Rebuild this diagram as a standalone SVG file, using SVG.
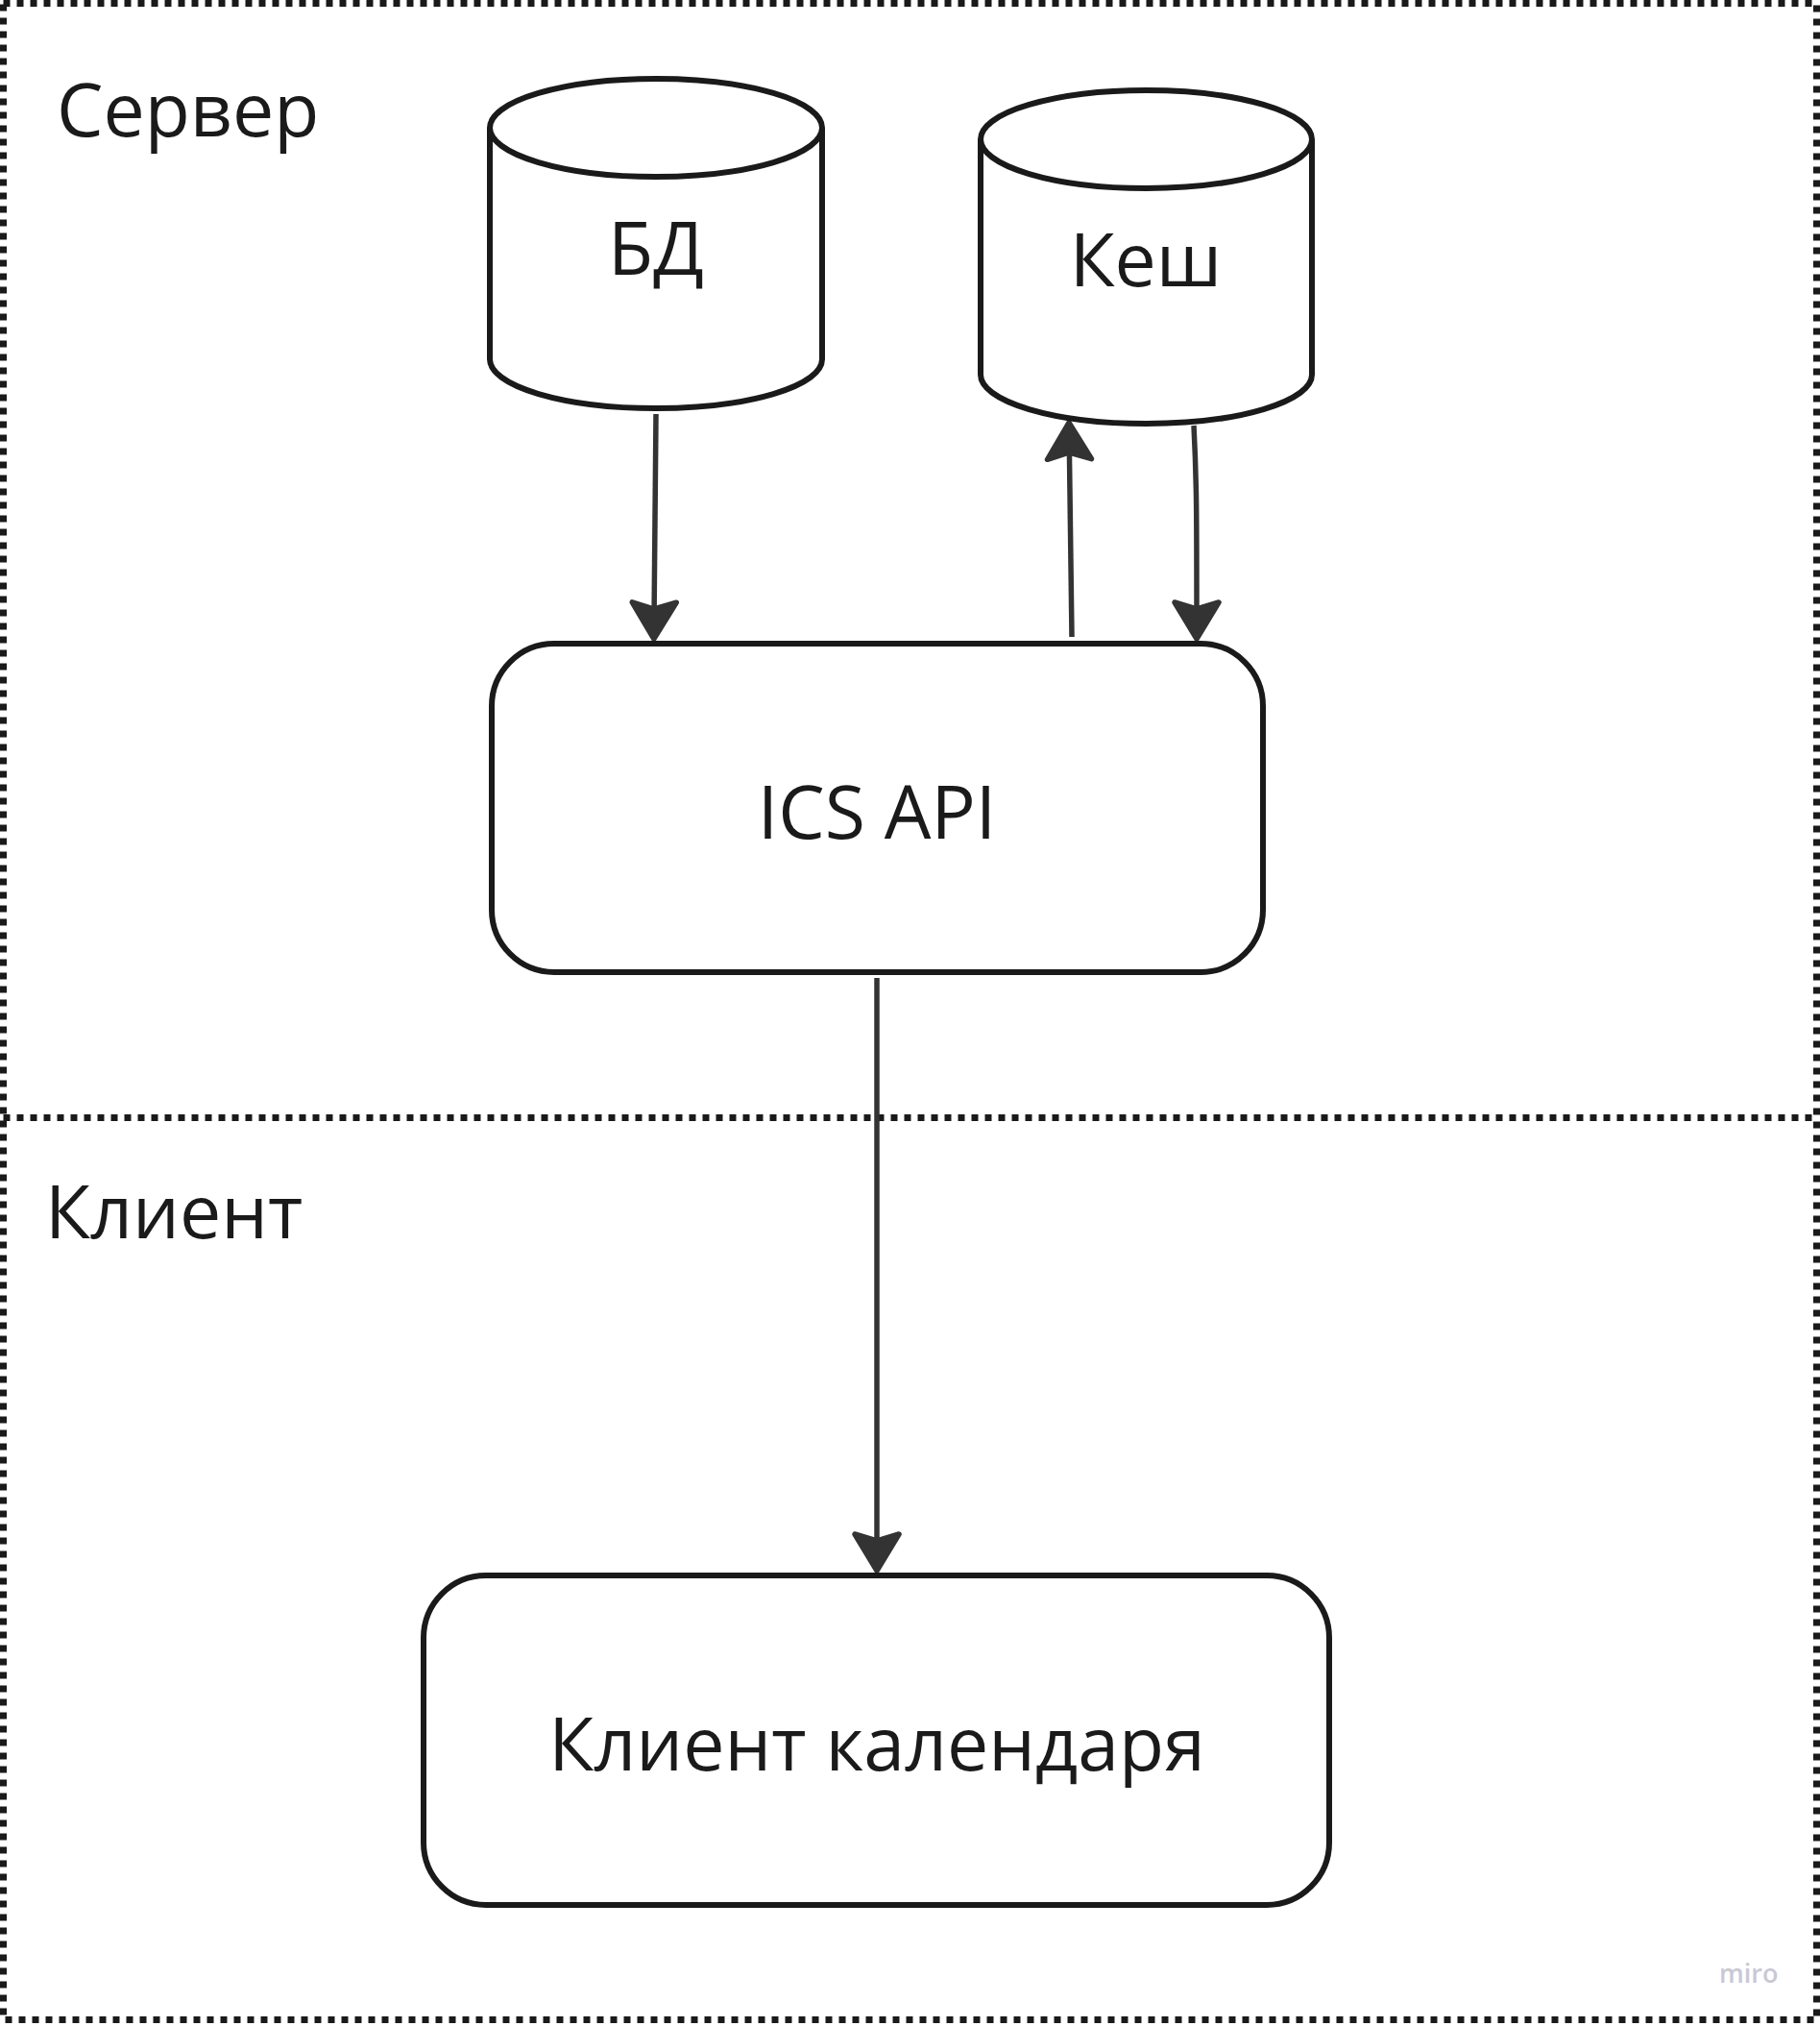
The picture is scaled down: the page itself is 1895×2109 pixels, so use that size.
<svg xmlns="http://www.w3.org/2000/svg" width="1895" height="2109" viewBox="0 0 1895 2109">
  <style>
    .frame { fill: none; stroke: #1a1a1a; stroke-width: 7; stroke-dasharray: 7 7; }
    .shape { fill: #ffffff; stroke: #1a1a1a; stroke-width: 6; stroke-linejoin: round; }
    .lbl { font-family: "Open Sans", "Noto Sans", sans-serif; font-size: 77px; fill: #1a1a1a; }
    .mid { text-anchor: middle; }
    .conn { fill: none; stroke: #333333; stroke-width: 5.5; }
    .wm { font-family: "Open Sans", "Noto Sans", sans-serif; font-size: 27px; font-weight: 600; fill: #c8c8d6; }
  </style>
  <defs>
    <marker id="arr" markerUnits="userSpaceOnUse" markerWidth="60" markerHeight="60" viewBox="-48 -30 56 60" refX="-30" refY="0" orient="auto" overflow="visible">
      <path d="M-2 0 L-40 -23 L-33 0 L-40 23 Z" fill="#333333" stroke="#333333" stroke-width="5.5" stroke-linejoin="round"/>
    </marker>
  </defs>
  <rect width="1895" height="2109" fill="#ffffff"/>

  <g id="frames">
    <rect class="frame" x="3.5" y="3.5" width="1888" height="2099"/>
    <line class="frame" x1="3.5" y1="1163.5" x2="1891.5" y2="1163.5"/>
    <text class="lbl" x="59" y="142">Сервер</text>
    <text class="lbl" x="47" y="1289">Клиент</text>
  </g>

  <g id="connectors">
    <path class="conn" d="M683 431 L681.1 637" marker-end="url(#arr)"/>
    <path class="conn" d="M1116 663 L1113.4 468" marker-end="url(#arr)"/>
    <path class="conn" d="M1243 443 C1246 500 1246 540 1246 637" marker-end="url(#arr)"/>
    <path class="conn" d="M913 1018 L913 1607" marker-end="url(#arr)"/>
  </g>

  <g id="db">
    <path class="shape" d="M510 133 L510 374 A173 51 0 0 0 856 374 L856 133"/>
    <ellipse class="shape" cx="683" cy="133" rx="173" ry="51"/>
    <text class="lbl mid" x="683" y="286">БД</text>
  </g>

  <g id="cache">
    <path class="shape" d="M1021 145 L1021 390 A172.5 51 0 0 0 1366 390 L1366 145"/>
    <ellipse class="shape" cx="1193.5" cy="145" rx="172.5" ry="51"/>
    <text class="lbl mid" x="1193" y="298">Кеш</text>
  </g>

  <g id="ics-api">
    <rect class="shape" x="512" y="670" width="803" height="342" rx="65" ry="65"/>
    <text class="lbl mid" x="913" y="873">ICS API</text>
  </g>

  <g id="calendar-client">
    <rect class="shape" x="441" y="1640" width="943" height="343" rx="65" ry="65"/>
    <text class="lbl mid" x="913" y="1843">Клиент календаря</text>
  </g>

  <text class="wm" x="1790" y="2064">miro</text>
</svg>
